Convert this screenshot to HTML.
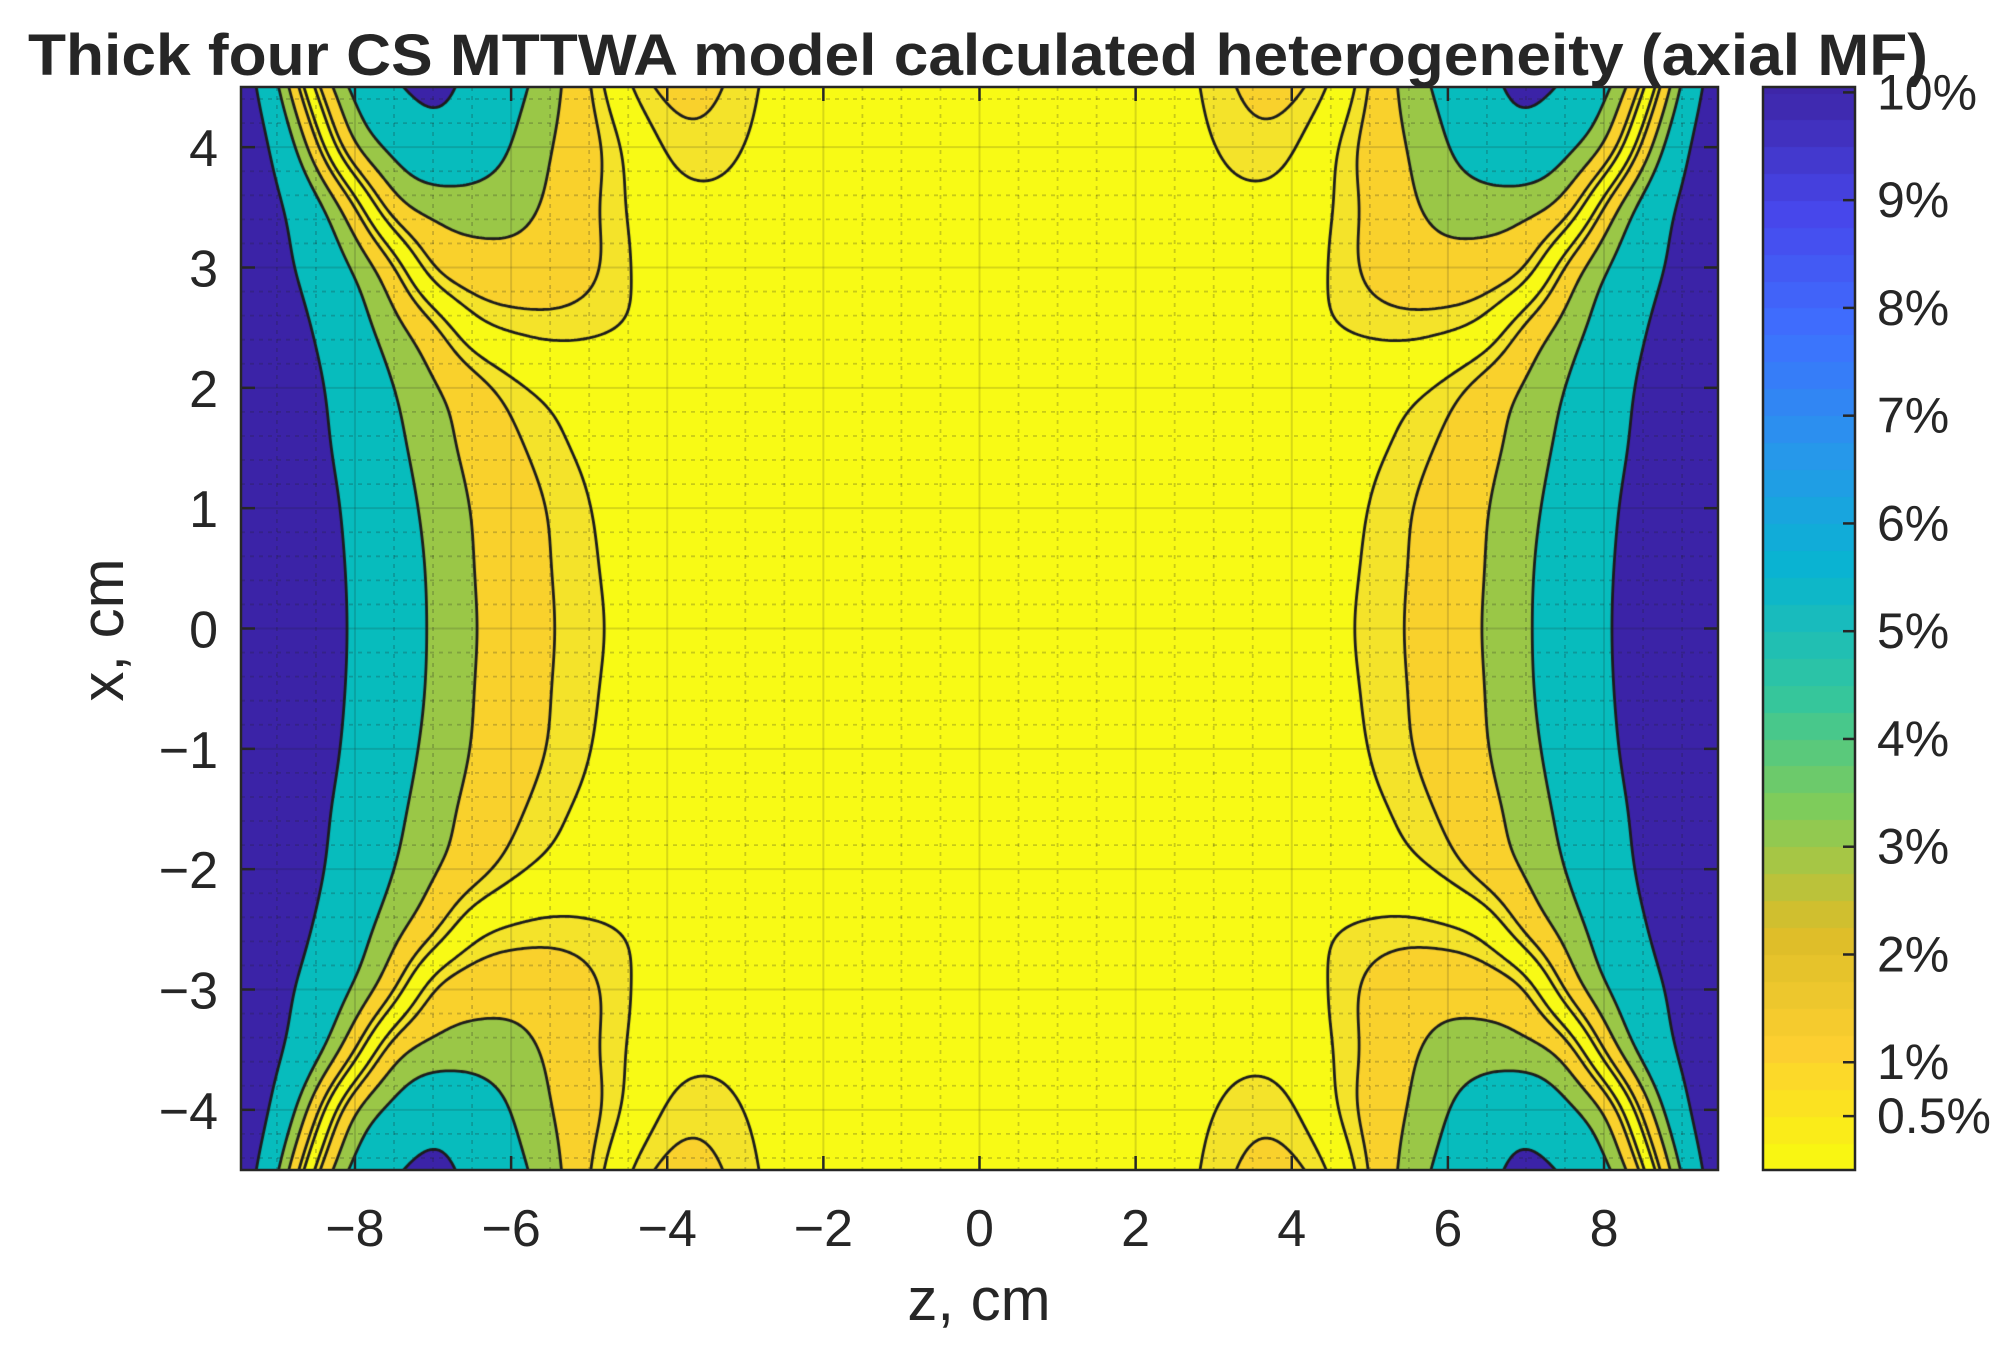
<!DOCTYPE html>
<html>
<head>
<meta charset="utf-8">
<style>
  html,body{margin:0;padding:0;background:#fff;}
  #wrap{position:relative;width:2007px;height:1345px;overflow:hidden;background:#fff;}
  #field{position:absolute;left:241px;top:87px;}
  #cbar{position:absolute;left:1763px;top:87px;}
  svg{position:absolute;left:0;top:0;}
  text{font-family:"Liberation Sans",Arial,sans-serif;fill:#262626;}
</style>
</head>
<body>
<div id="wrap">
  <canvas id="field" width="1477" height="1083"></canvas>
  <canvas id="cbar" width="92" height="1083"></canvas>
  <svg id="ov" width="2007" height="1345"></svg>
</div>
<script>
// ---------- data (one quadrant, mirrored in z and x) ----------
const zCols = [-9.5,-9,-8.5,-8,-7.5,-7,-6.5,-6,-5.5,-5,-4.5,-4,-3.5,-3,-2.5,-2,-1.5,-1,-0.5,0];
const xRows = [0,0.5,1,1.5,2,2.5,3,3.5,4,4.5];
const gRow0  = [7.6,6.8,5.8,4.8,3.8,2.84,2.05,1.54,1.06,0.6,0.35,0.22,0.15,0.1,0.08,0.05,0.05,0.05,0.05,0.05];
const gRow05 = [7.55,6.75,5.75,4.75,3.75,2.8,2.0,1.5,1.02,0.55,0.33,0.21,0.15,0.1,0.08,0.05,0.05,0.05,0.05,0.05];
const gRow1  = [7.5,6.7,5.65,4.6,3.56,2.66,1.94,1.45,0.95,0.48,0.3,0.2,0.15,0.1,0.08,0.06,0.05,0.05,0.05,0.05];
const gRow15 = [7.4,6.5,5.4,4.37,3.3,2.42,1.73,1.2,0.66,0.35,0.22,0.15,0.1,0.08,0.07,0.06,0.05,0.05,0.05,0.05];
const gRow2  = [7.3,6.4,5.25,4.1,2.98,2.1,1.42,0.67,0.3,0.15,0.1,0.05,0.05,0.05,0.05,0.05,0.05,0.05,0.05,0.05];
const gRow25 = [7.2,6.1,4.85,3.6,2.3,1.25,-0.25,-0.6,-0.75,-0.65,-0.45,-0.2,-0.05,0.05,0.05,0.05,0.05,0.05,0.05,0.05];
const gRow3  = [7.0,5.6,4.26,2.85,1.15,-1.2,-1.6,-1.7,-1.55,-1.2,-0.53,0.0,0.15,0.1,0.1,0.1,0.1,0.1,0.1,0.1];
const gRow35 = [7.0,5.3,3.5,1.1,-1.75,-2.3,-2.4,-2.3,-1.87,-1.2,-0.45,0.2,0.35,0.3,0.2,0.15,0.1,0.1,0.1,0.1];
const gRow4  = [7.0,4.5,1.3,-2.15,-3.3,-4.35,-4.0,-2.95,-2.0,-1.35,-0.3,0.65,0.8,0.45,0.3,0.2,0.15,0.1,0.1,0.1];
const gRow45 = [6.5,3.3,-0.8,-3.5,-4.7,-5.7,-4.4,-3.5,-2.35,-1.12,0.47,1.25,1.3,0.6,0.3,0.25,0.2,0.15,0.1,0.1];
const gridVals = [gRow0,gRow05,gRow1,gRow15,gRow2,gRow25,gRow3,gRow35,gRow4,gRow45];
const levels = [0.5,1,2,3,5];
const bandColors = ['#f8fa15','#f4e32a','#f9d12c','#9ac747','#07bcbd','#3b23a7'];
const zTicks = [-8,-6,-4,-2,0,2,4,6,8];
const xTicks = [-4,-3,-2,-1,0,1,2,3,4];
const cbTicks = [0.5,1,2,3,4,5,6,7,8,9,10];
const cbLabels = ['0.5%','1%','2%','3%','4%','5%','6%','7%','8%','9%','10%'];

// ---------- axes ----------
const PL=241, PT=87, PW=1477, PH=1083;
const zMin=-9.46, zMax=9.46, xMin=-4.5, xMax=4.5;
const zx = z => PL + (z-zMin)/(zMax-zMin)*PW;
const xy = x => PT + (xMax-x)/(xMax-xMin)*PH;
const CBL=1763, CBW=92, cbMax=10.05;
const cy = v => PT + PH - v/cbMax*PH;

// ---------- interpolation ----------
const dz = zCols[1]-zCols[0], dx = xRows[1]-xRows[0];
const nC = zCols.length, nR = xRows.length;
function sample(i,j){
  if(j<0) j=-j;
  let extra=0;
  if(j>nR-1){ extra=j-(nR-1); j=nR-1; }
  if(i>nC-1) i=2*(nC-1)-i;
  let v;
  if(i<0){ v = gridVals[j][0] + (gridVals[j][0]-gridVals[j][1])*(-i); }
  else v = gridVals[j][i];
  if(extra){
    let v2 = (i<0)? gridVals[j-1][0] + (gridVals[j-1][0]-gridVals[j-1][1])*(-i) : gridVals[j-1][i];
    v = v + (v-v2)*extra;
  }
  return v;
}
function cr(p0,p1,p2,p3,t){
  return 0.5*((2*p1)+(-p0+p2)*t+(2*p0-5*p1+4*p2-p3)*t*t+(-p0+3*p1-3*p2+p3)*t*t*t);
}
function G(z,x){
  const zz=-Math.abs(z), xx=Math.abs(x);
  const u=(zz-zCols[0])/dz, w=(xx-xRows[0])/dx;
  const i0=Math.floor(u), j0=Math.floor(w), t=u-i0, s=w-j0;
  const r=[];
  for(let m=-1;m<=2;m++){
    r.push(cr(sample(i0-1,j0+m),sample(i0,j0+m),sample(i0+1,j0+m),sample(i0+2,j0+m),t));
  }
  return cr(r[0],r[1],r[2],r[3],s);
}

// ---------- field (signed, smoothed; padded so edges blur naturally) ----------
const cv=document.getElementById('field'), ctx=cv.getContext('2d');
const PAD=60, W2=PW+2*PAD, H2=PH+2*PAD;
let S=new Float32Array(W2*H2);
for(let py=0;py<H2;py++){
  const x = xMax - (py-PAD+0.5)/PH*(xMax-xMin);
  for(let px=0;px<W2;px++){
    const z = zMin + (px-PAD+0.5)/PW*(zMax-zMin);
    S[py*W2+px]=G(z,x);
  }
}
function boxBlur(src,w,h,r,horiz){
  const out=new Float32Array(w*h);
  const n=horiz?w:h, m=horiz?h:w;
  for(let a=0;a<m;a++){
    const idx=k=> horiz? a*w+Math.min(Math.max(k,0),w-1) : Math.min(Math.max(k,0),h-1)*w+a;
    let sum=0;
    for(let k=-r;k<=r;k++) sum+=src[idx(k)];
    for(let k=0;k<n;k++){
      out[horiz? a*w+k : k*w+a]=sum/(2*r+1);
      sum+=src[idx(k+r+1)]-src[idx(k-r)];
    }
  }
  return out;
}
for(let p=0;p<3;p++){ S=boxBlur(S,W2,H2,17,true); S=boxBlur(S,W2,H2,13,false); }
const F=new Float32Array(PW*PH);
for(let py=0;py<PH;py++) for(let px=0;px<PW;px++) F[py*PW+px]=Math.abs(S[(py+PAD)*W2+px+PAD]);

function hex(c){return [parseInt(c.substr(1,2),16),parseInt(c.substr(3,2),16),parseInt(c.substr(5,2),16)];}
const bandRGB=bandColors.map(hex);
const img=ctx.createImageData(PW,PH);
for(let k=0;k<PW*PH;k++){
  const v=F[k]; let b=0;
  while(b<levels.length && v>=levels[b]) b++;
  const c=bandRGB[b];
  img.data[4*k]=c[0]; img.data[4*k+1]=c[1]; img.data[4*k+2]=c[2]; img.data[4*k+3]=255;
}
ctx.putImageData(img,0,0);

// ---------- contour lines (marching squares) ----------
ctx.strokeStyle='#1c1c1c'; ctx.lineWidth=2.8; ctx.lineCap='round';
const st=3;
function at(px,py){ px=Math.min(px,PW-1); py=Math.min(py,PH-1); return F[py*PW+px]; }
ctx.beginPath();
for(const L of levels){
  for(let py=0;py<PH-1;py+=st){
    for(let px=0;px<PW-1;px+=st){
      const x1=Math.min(px+st,PW-1), y1=Math.min(py+st,PH-1);
      const a=at(px,py), b=at(x1,py), c=at(x1,y1), d=at(px,y1);
      const pts=[];
      if((a<L)!==(b<L)) pts.push([px+(L-a)/(b-a)*(x1-px), py]);
      if((b<L)!==(c<L)) pts.push([x1, py+(L-b)/(c-b)*(y1-py)]);
      if((d<L)!==(c<L)) pts.push([px+(L-d)/(c-d)*(x1-px), y1]);
      if((a<L)!==(d<L)) pts.push([px, py+(L-a)/(d-a)*(y1-py)]);
      if(pts.length>=2){ ctx.moveTo(pts[0][0]+0.5,pts[0][1]+0.5); ctx.lineTo(pts[1][0]+0.5,pts[1][1]+0.5); }
      if(pts.length===4){ ctx.moveTo(pts[2][0]+0.5,pts[2][1]+0.5); ctx.lineTo(pts[3][0]+0.5,pts[3][1]+0.5); }
    }
  }
}
ctx.stroke();

// ---------- colorbar (reversed parula, 40 steps) ----------
const parula=[[0.2422,0.1504,0.6603],[0.2803,0.2782,0.9221],[0.2440,0.4358,0.9988],[0.1540,0.5902,0.9218],[0.0297,0.7082,0.8163],[0.1938,0.7758,0.6251],[0.5044,0.7993,0.3480],[0.8634,0.7406,0.1596],[0.9892,0.8136,0.1885],[0.9763,0.9831,0.0538]];
function par(t){
  const u=t*(parula.length-1), i=Math.min(Math.floor(u),parula.length-2), f=u-i;
  return parula[i].map((v,k)=>Math.round(255*(v+(parula[i+1][k]-v)*f)));
}
const cc=document.getElementById('cbar').getContext('2d');
const nSteps=40;
for(let k=0;k<nSteps;k++){
  const v0=k*10/nSteps, v1=(k+1)*10/nSteps;
  const col=par(1-(k+0.5)/nSteps);
  cc.fillStyle='rgb('+col.join(',')+')';
  const ya=cy(v1)-PT, yb=cy(v0)-PT;
  cc.fillRect(0,Math.floor(ya),CBW,Math.ceil(yb-ya)+1);
}
cc.fillStyle='rgb('+par(0).join(',')+')';
cc.fillRect(0,0,CBW,Math.ceil(cy(10)-PT)+1);

// ---------- SVG overlay ----------
const NS='http://www.w3.org/2000/svg';
const svg=document.getElementById('ov');
function mk(tag,attrs,parent){
  const e=document.createElementNS(NS,tag);
  for(const k in attrs) e.setAttribute(k,attrs[k]);
  (parent||svg).appendChild(e); return e;
}
const gGrid=mk('g',{});


for(let z=-9.5; z<=9.5; z+=0.5){
  if(z<zMin||z>zMax) continue;
  const major = Math.abs(z%2)<1e-6;
  const l=mk('line',{x1:zx(z),x2:zx(z),y1:PT,y2:PT+PH,stroke:'rgba(30,30,30,'+(major?0.15:0.22)+')','stroke-width':major?2:1.8,'stroke-dasharray':major?'':'4 5'},gGrid);
  
  
}
for(let i=-22;i<=22;i++){
  const x=i*0.2; const major=(i%5===0);
  const l=mk('line',{x1:PL,x2:PL+PW,y1:xy(x),y2:xy(x),stroke:'rgba(30,30,30,'+(major?0.15:0.22)+')','stroke-width':major?2:1.8,'stroke-dasharray':major?'':'4 5'},gGrid);
  
  
}
const box=mk('rect',{x:PL,y:PT,width:PW,height:PH,fill:'none',stroke:'#262626','stroke-width':2.5});


const TL=14;
zTicks.forEach((z,i)=>{
  mk('line',{x1:zx(z),x2:zx(z),y1:PT+PH,y2:PT+PH-TL,stroke:'#262626','stroke-width':2.5});
  mk('line',{x1:zx(z),x2:zx(z),y1:PT,y2:PT+TL,stroke:'#262626','stroke-width':2.5});
  const t=mk('text',{x:zx(z),y:1246,'text-anchor':'middle','font-size':52});
  t.textContent=(z<0?'\u2212':'')+Math.abs(z);
  
  
});
xTicks.forEach(x=>{
  mk('line',{x1:PL,x2:PL+TL,y1:xy(x),y2:xy(x),stroke:'#262626','stroke-width':2.5});
  mk('line',{x1:PL+PW,x2:PL+PW-TL,y1:xy(x),y2:xy(x),stroke:'#262626','stroke-width':2.5});
  const t=mk('text',{x:218,y:xy(x)+19,'text-anchor':'end','font-size':52});
  t.textContent=(x<0?'\u2212':'')+Math.abs(x);
  
  
});
const cbBox=mk('rect',{x:CBL,y:PT,width:CBW,height:PH,fill:'none',stroke:'#262626','stroke-width':2.5});


cbTicks.forEach((v,i)=>{
  mk('line',{x1:CBL+CBW,x2:CBL+CBW-12,y1:cy(v),y2:cy(v),stroke:'#262626','stroke-width':2.5});
  const t=mk('text',{x:1877,y:cy(v)+17,'font-size':50});
  t.textContent=cbLabels[i];
  
  
});
const title=mk('text',{x:978,y:75,'text-anchor':'middle','font-size':58,'font-weight':'bold',textLength:1900,lengthAdjust:'spacingAndGlyphs'});
title.textContent='Thick four CS MTTWA model calculated heterogeneity (axial MF)';


const xl=mk('text',{x:979,y:1320,'text-anchor':'middle','font-size':60});
xl.textContent='z, cm';


const yl=mk('text',{x:0,y:0,'text-anchor':'middle','font-size':60,transform:'translate(123,630) rotate(-90)'});
yl.textContent='x, cm';


</script>
</body>
</html>
